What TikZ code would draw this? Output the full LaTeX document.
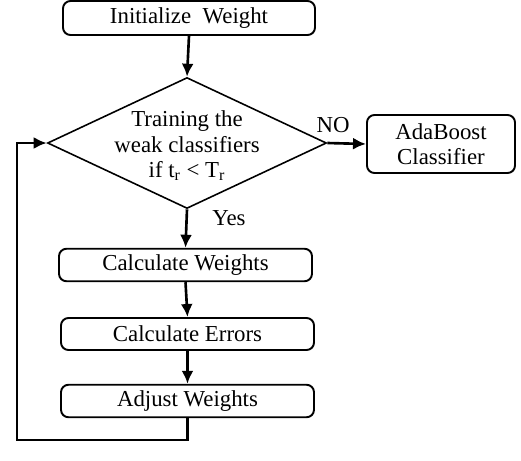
\documentclass[tikz,border=0pt]{standalone}
\usepackage{fontspec}
\setmainfont{Liberation Serif}
\usepackage{tikz}
\usetikzlibrary{positioning,arrows.meta,calc,shapes.geometric}
\tikzset{
  flowarrow/.style={-{Latex[length=2.6mm,width=2.4mm]}, line width=1.5pt},
  stepbox/.style={draw, rounded corners=1.5mm, line width=1.1pt, fill=white, minimum width=5.06cm, minimum height=0.64cm, align=center},
  outbox/.style={draw, rounded corners=1.5mm, line width=1.1pt, fill=white, minimum width=2.96cm, minimum height=1.16cm, align=center},
  decision/.style={draw, diamond, line width=0.9pt, inner sep=0pt, minimum width=5.58cm, minimum height=2.62cm},
  tag/.style={inner sep=1pt}
}

\begin{document}
\begin{tikzpicture}[>=Latex, every node/.style={font=\fontsize{13}{14.5}\selectfont}]
      \useasboundingbox (0,0) rectangle (10.42,-9.2);
      \node[stepbox, minimum width=5.04cm, minimum height=0.68cm] (init) at (3.78,-0.36) {Initialize~ Weight};
      \node[decision] (train) at (3.74,-2.86) {};
      \node[align=center, inner sep=0pt] (trainlbl) at (3.74,-2.92) {Training the\\ weak classifiers\\ if t\textsubscript{r} < T\textsubscript{r}};
      \node[outbox] (ada) at (8.82,-2.88) {AdaBoost\\ Classifier};
      \node[stepbox] (calcw) at (3.71,-5.3) {Calculate Weights};
      \node[stepbox] (calce) at (3.75,-6.68) {Calculate Errors};
      \node[stepbox] (adjust) at (3.75,-8.02) {Adjust Weights};
      \node[tag] (no) at (6.66,-2.5) {NO};
      \node[tag] (yes) at (4.58,-4.36) {Yes};
      \coordinate (loopc) at (0.34,-8.8);
      \draw[flowarrow] (init.south) -- (train.north);
      \draw[flowarrow] (train.east) -- (ada.west);
      \draw[flowarrow] (train.south) -- (calcw.north);
      \draw[flowarrow] (calcw.south) -- (calce.north);
      \draw[flowarrow] (calce.south) -- (adjust.north);
      \draw[flowarrow] (adjust.south) |- (loopc) |- (train.west);
    \end{tikzpicture}
\end{document}
